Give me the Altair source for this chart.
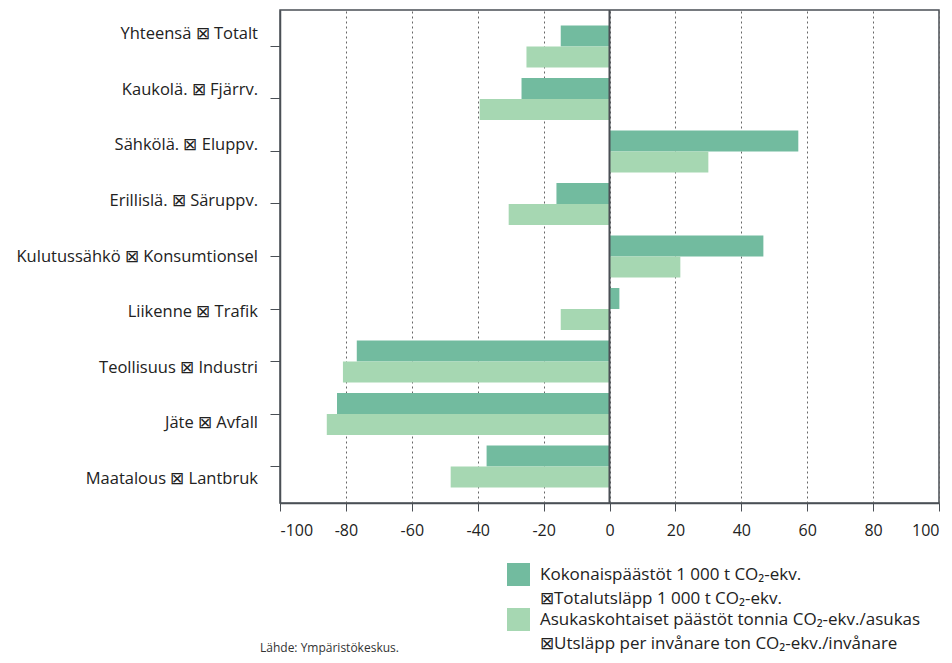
import altair as alt
import pandas as pd

categories = [
    "Yhteensä ⊠ Totalt",
    "Kaukolä. ⊠ Fjärrv.",
    "Sähkölä. ⊠ Eluppv.",
    "Erillislä. ⊠ Säruppv.",
    "Kulutussähkö ⊠ Konsumtionsel",
    "Liikenne ⊠ Trafik",
    "Teollisuus ⊠ Industri",
    "Jäte ⊠ Avfall",
    "Maatalous ⊠ Lantbruk",
]
total = [-14.8, -26.7, 57.3, -16.1, 46.7, 3.0, -76.7, -82.7, -37.3]
per_capita = [-25.2, -39.4, 30.0, -30.6, 21.5, -14.8, -80.9, -85.8, -48.2]
series = [
    "Kokonaispäästöt 1 000 t CO₂-ekv.|⊠Totalutsläpp 1 000 t CO₂-ekv.",
    "Asukaskohtaiset päästöt tonnia CO₂-ekv./asukas|⊠Utsläpp per invånare ton CO₂-ekv./invånare",
]
colors = ["#72BB9F", "#A6D7B2"]
x_ticks = [-100, -80, -60, -40, -20, 0, 20, 40, 60, 80, 100]
source = ["Lähde: Ympäristökeskus."]

rows = []
for c, a, b in zip(categories, total, per_capita):
    rows.append({"cat": c, "series": series[0], "value": a})
    rows.append({"cat": c, "series": series[1], "value": b})
df = pd.DataFrame(rows)

FONT = "Open Sans"
DARK = "#4a4f55"

bars = alt.Chart(df).mark_bar().encode(
    x=alt.X(
        "value:Q",
        scale=alt.Scale(domain=[-100, 100], nice=False),
        axis=alt.Axis(
            values=x_ticks, title=None, grid=True, gridDash=[2, 3], gridColor="#666",
            gridWidth=1, tickSize=8, tickColor=DARK, domainColor=DARK, domainWidth=1.5,
            labelFont=FONT, labelFontSize=16, labelColor="#222", labelPadding=11,
            labelExpr="toString(datum.value)",
        ),
    ),
    y=alt.Y(
        "cat:N", sort=categories,
        scale=alt.Scale(paddingInner=0, paddingOuter=0.195),
        axis=alt.Axis(labels=False, title=None, ticks=True, tickSize=10, tickColor=DARK,
                      domainColor=DARK, domainWidth=1.5, grid=False),
    ),
    yOffset=alt.YOffset("series:N", sort=series,
                        scale=alt.Scale(paddingInner=0, paddingOuter=0.25)),
    color=alt.Color(
        "series:N",
        scale=alt.Scale(domain=series, range=colors),
        legend=alt.Legend(
            title=None, orient="none", legendX=227, legendY=553,
            symbolType="square", symbolSize=529, symbolStrokeWidth=0,
            labelExpr="split(datum.label, '|')", labelFont=FONT, labelFontSize=17,
            labelColor="#222", labelLimit=0, labelOffset=10, rowPadding=1,
        ),
    ),
)

zero = alt.Chart(pd.DataFrame({"v": [0]})).mark_rule(color=DARK, strokeWidth=2).encode(
    x=alt.X("v:Q")
)

labels = alt.Chart(pd.DataFrame({"cat": categories})).mark_text(
    align="right", baseline="middle", font=FONT, fontSize=16.5, color="#222"
).encode(
    y=alt.Y("cat:N", sort=categories, scale=alt.Scale(type="point", padding=0.43), axis=None),
    x=alt.value(-22),
    text="cat:N",
)

note = alt.Chart(pd.DataFrame({"t": source})).mark_text(
    align="left", baseline="middle", font=FONT, fontSize=12, color="#333"
).encode(
    x=alt.value(-20),
    y=alt.value(638),
    text="t:N",
)

chart = alt.layer(bars, zero, labels, note).resolve_scale(y="independent").properties(
    width=659,
    height=493,
    autosize=alt.AutoSizeParams(type="none"),
    padding={"left": 272, "top": 2, "right": 5, "bottom": 152},
).configure(
    style={"guide-label": {"lineHeight": 24}}
).configure_view(stroke=DARK, strokeWidth=1.5)

chart.save("out.html", embed_options={"renderer": "svg", "actions": False})
